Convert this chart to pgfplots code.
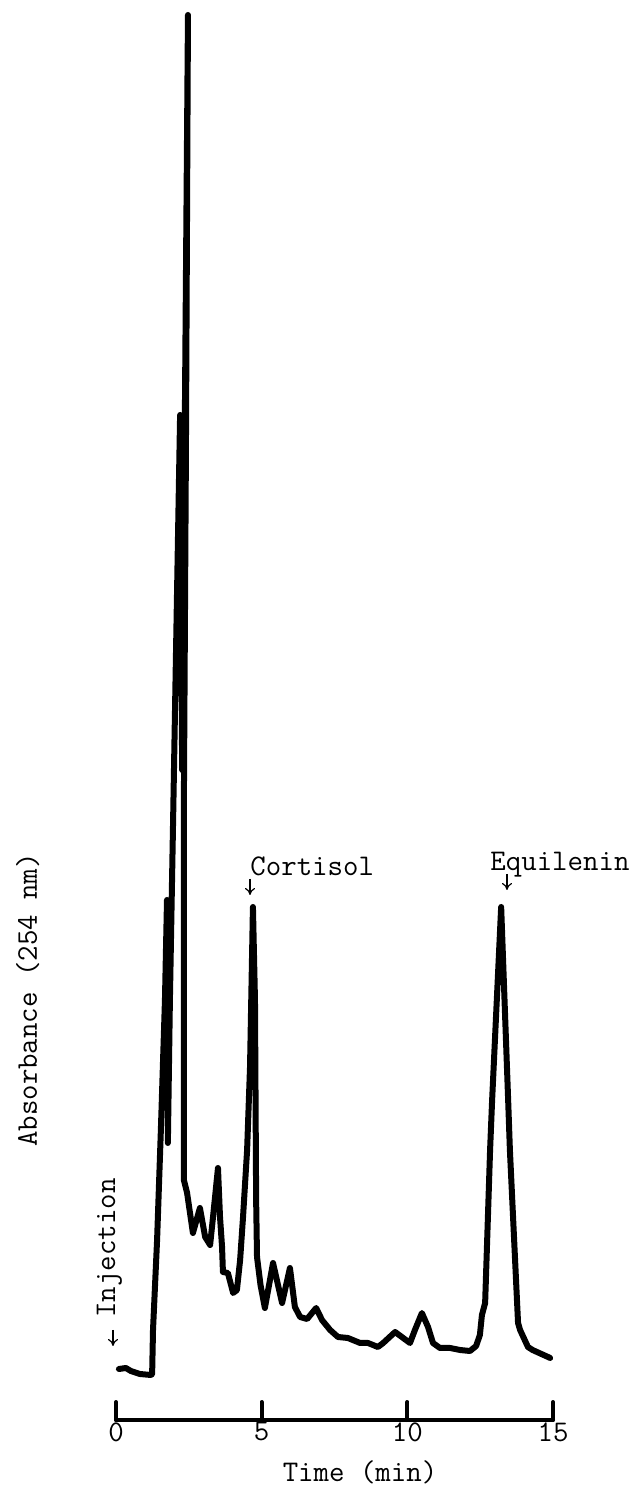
\documentclass[border=0pt]{standalone}
\usepackage{fontspec}
\usepackage{pgfplots}
\pgfplotsset{compat=1.18}
\usetikzlibrary{arrows.meta}

\newcommand\typefont{\ttfamily\fontsize{15}{18}\selectfont}

% Chromatogram trace: time (min), detector response (arbitrary units)
\pgfplotstableread{
t      A
0.10   5.1
0.34   5.2
0.51   4.9
0.82   4.6
1.20   4.5
1.24   4.6
1.27   9.0
1.41   18.0
1.54   29.0
1.68   42.0
1.75   52.0
1.78   27.7
1.85   42.0
1.96   60.0
2.20   100.5
2.27   65.0
2.47   140.5
2.40   97.0
2.33   62.0
2.33   24.0
2.44   22.7
2.64   18.7
2.88   21.2
3.06   18.3
3.23   17.5
3.33   20.3
3.50   25.2
3.57   20.3
3.64   17.3
3.67   14.8
3.84   14.7
4.02   12.7
4.15   13.0
4.26   16.0
4.36   20.3
4.50   27.0
4.60   35.3
4.70   51.3
4.77   42.0
4.81   22.0
4.84   16.3
4.96   13.5
5.11   11.2
5.39   15.7
5.70   11.7
5.97   15.2
6.14   11.3
6.32   10.3
6.56   10.1
6.87   11.2
7.07   10.0
7.35   9.0
7.62   8.3
7.96   8.2
8.38   7.7
8.65   7.7
8.99   7.3
9.17   7.7
9.58   8.8
10.09  7.7
10.26  9.0
10.50  10.7
10.71  9.3
10.88  7.7
11.12  7.2
11.47  7.2
11.81  7.0
12.15  6.9
12.36  7.4
12.49  8.5
12.56  10.5
12.67  11.7
12.84  27.0
12.91  32.0
13.22  51.3
13.46  32.0
13.52  27.0
13.80  9.7
13.87  9.0
14.14  7.3
14.30  7.0
14.83  6.3
14.90  6.2
}\trace

\begin{document}
\begin{tikzpicture}
\begin{axis}[
  scale only axis,
  width=218.5pt, height=702.5pt,
  xmin=0, xmax=15, ymin=0, ymax=140.5,
  clip=false,
  axis x line*=bottom,
  hide y axis,
  axis line style={line width=2pt, line cap=round},
  xtick={0,5,10,15},
  xticklabels={0,5,10,15},
  xtick align=inside,
  major tick length=9pt,
  every tick/.style={black, line width=2pt, line cap=round},
  xticklabel style={font=\typefont, inner sep=1pt},
]
\addplot[black, line width=3pt, line join=round, line cap=round] table[x=t, y=A] {\trace};

% peak annotations
\node[anchor=base west, font=\typefont, inner sep=0pt] at (axis cs:4.600,54.4) {Cortisol};
\draw[line width=0.6pt, -{To[length=3.5pt,width=5pt]}] (axis cs:4.600,54.1) -- (axis cs:4.600,52.5);
\node[anchor=base west, font=\typefont, inner sep=0pt] at (axis cs:12.838,54.9) {Equilenin};
\draw[line width=0.6pt, -{To[length=3.5pt,width=5pt]}] (axis cs:13.421,54.6) -- (axis cs:13.421,53.0);
\node[rotate=90, anchor=base west, font=\typefont, inner sep=0pt] at (axis cs:-0.034,10.2) {Injection};
\draw[line width=0.6pt, -{To[length=3.5pt,width=5pt]}] (axis cs:-0.103,9.0) -- (axis cs:-0.103,7.4);

% axis titles
\node[rotate=90, anchor=base, font=\typefont, inner sep=0pt] at (axis cs:-2.712,42.0) {Absorbance (254 nm)};
\node[anchor=base, font=\typefont, inner sep=0pt] at (axis cs:8.375,-6.1) {Time (min)};

\coordinate (bbsw) at (axis cs:-3.982,-7.1);
\coordinate (bbne) at (axis cs:17.987,142.0);
\end{axis}
\pgfresetboundingbox
\path[use as bounding box] (bbsw) rectangle (bbne);
\end{tikzpicture}
\end{document}
